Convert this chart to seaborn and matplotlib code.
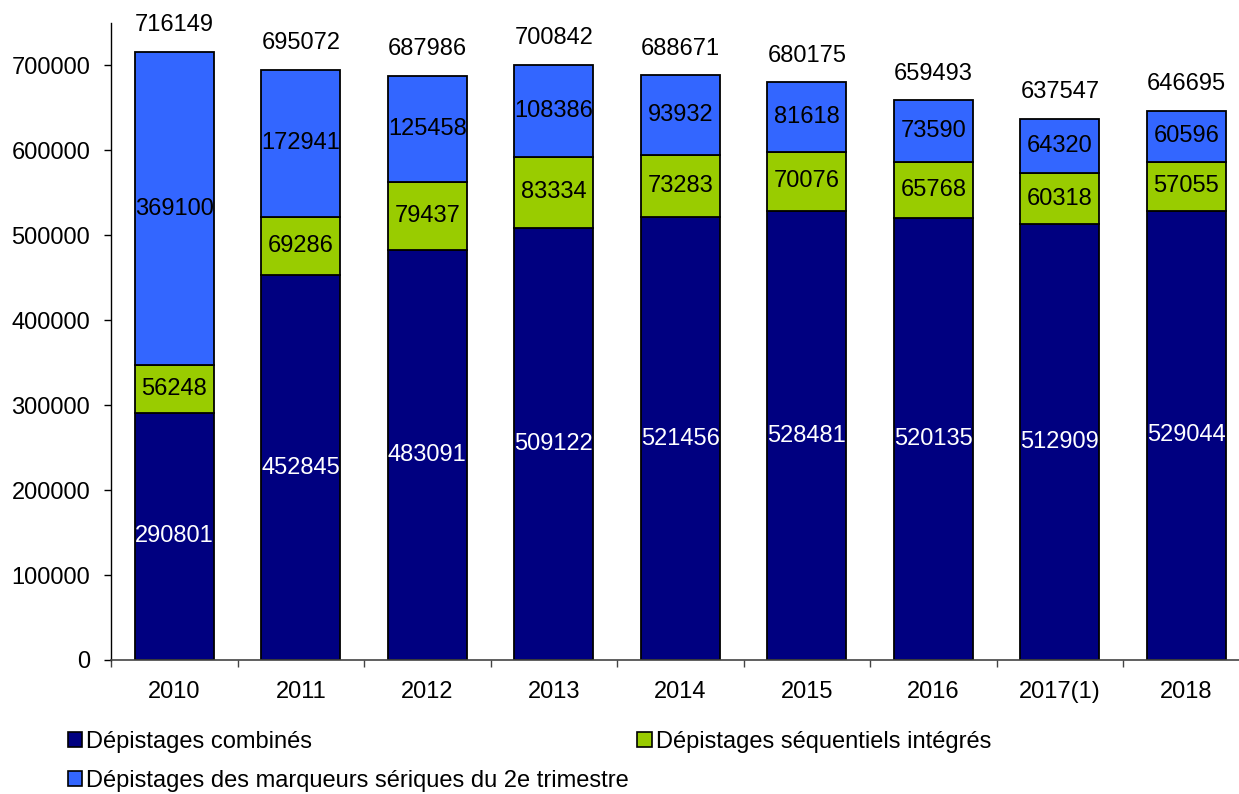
import matplotlib
matplotlib.use("Agg")
import matplotlib.pyplot as plt
from matplotlib.patches import Patch
import seaborn as sns
import pandas as pd

years = ["2010", "2011", "2012", "2013", "2014", "2015", "2016", "2017(1)", "2018"]
combines = [290801, 452845, 483091, 509122, 521456, 528481, 520135, 512909, 529044]
sequentiels = [56248, 69286, 79437, 83334, 73283, 70076, 65768, 60318, 57055]
marqueurs = [369100, 172941, 125458, 108386, 93932, 81618, 73590, 64320, 60596]
totaux = [716149, 695072, 687986, 700842, 688671, 680175, 659493, 637547, 646695]

labels = ["Dépistages combinés", "Dépistages séquentiels intégrés",
          "Dépistages des marqueurs sériques du 2e trimestre"]
colors = ["#000080", "#99CC00", "#3366FF"]

df = pd.DataFrame({"annee": years, "comb": combines, "seq": sequentiels, "marq": marqueurs})
df["base_seq"] = df["comb"]
df["base_marq"] = df["comb"] + df["seq"]

sns.set_style("white")
plt.rcParams["font.family"] = ["Liberation Sans", "DejaVu Sans"]
plt.rcParams["text.color"] = "black"
plt.rcParams["xtick.color"] = "black"
plt.rcParams["ytick.color"] = "black"

fig = plt.figure(figsize=(12.39, 7.94), dpi=100)
ax = fig.add_axes([0.0896, 0.1688, 0.919, 0.8022])

width = 0.625
common = dict(width=width, edgecolor="black", linewidth=1.3, saturation=1, ax=ax)
sns.barplot(data=df, x="annee", y="comb", color=colors[0], **common)
sns.barplot(data=df, x="annee", y="seq", bottom=df["base_seq"], color=colors[1], **common)
sns.barplot(data=df, x="annee", y="marq", bottom=df["base_marq"], color=colors[2], **common)

fs = 17
for i in range(len(years)):
    c, s, m = combines[i], sequentiels[i], marqueurs[i]
    ax.text(i, c / 2, str(c), ha="center", va="center", color="white", fontsize=fs)
    ax.text(i, c + s / 2, str(s), ha="center", va="center", color="black", fontsize=fs)
    ax.text(i, c + s + m / 2, str(m), ha="center", va="center", color="black", fontsize=fs)
    ax.annotate(str(totaux[i]), (i, totaux[i]), xytext=(0, 11), textcoords="offset points",
                ha="center", va="bottom", fontsize=fs, color="black")

ax.set_xlim(-0.5, len(years) - 0.5)
ax.set_ylim(0, 750000)
ax.set_yticks(range(0, 700001, 100000))
ax.set_yticklabels([str(v) for v in range(0, 700001, 100000)])
ax.set_xlabel("")
ax.set_ylabel("")

ax.set_xticks([i - 0.5 for i in range(len(years) + 1)], minor=True)
ax.tick_params(axis="x", which="major", bottom=False, length=0, labelsize=fs, pad=15,
               labelcolor="black")
ax.tick_params(axis="x", which="minor", bottom=True, length=5, width=1, color="#444444",
               direction="out")
ax.tick_params(axis="y", which="major", left=True, length=5, width=1, color="black",
               direction="out", labelsize=fs, pad=10, labelcolor="black")

for side in ["top", "right"]:
    ax.spines[side].set_visible(False)
ax.spines["left"].set_color("black")
ax.spines["left"].set_linewidth(1)
ax.spines["bottom"].set_color("#444444")
ax.spines["bottom"].set_linewidth(1.2)

handles = [Patch(facecolor=colors[0], edgecolor="black", linewidth=1.2),
           Patch(facecolor=colors[2], edgecolor="black", linewidth=1.2),
           Patch(facecolor=colors[1], edgecolor="black", linewidth=1.2)]
leg_labels = [labels[0], labels[2], labels[1]]
leg = fig.legend(handles, leg_labels, ncol=2, loc="upper left", bbox_to_anchor=(0.045, 0.094),
                 frameon=False, fontsize=fs, handlelength=0.6, handleheight=0.6,
                 handletextpad=0.2, columnspacing=0.35, labelspacing=0.72, borderpad=0)
for t in leg.get_texts():
    t.set_color("black")

fig.savefig("out.png", dpi=100)
